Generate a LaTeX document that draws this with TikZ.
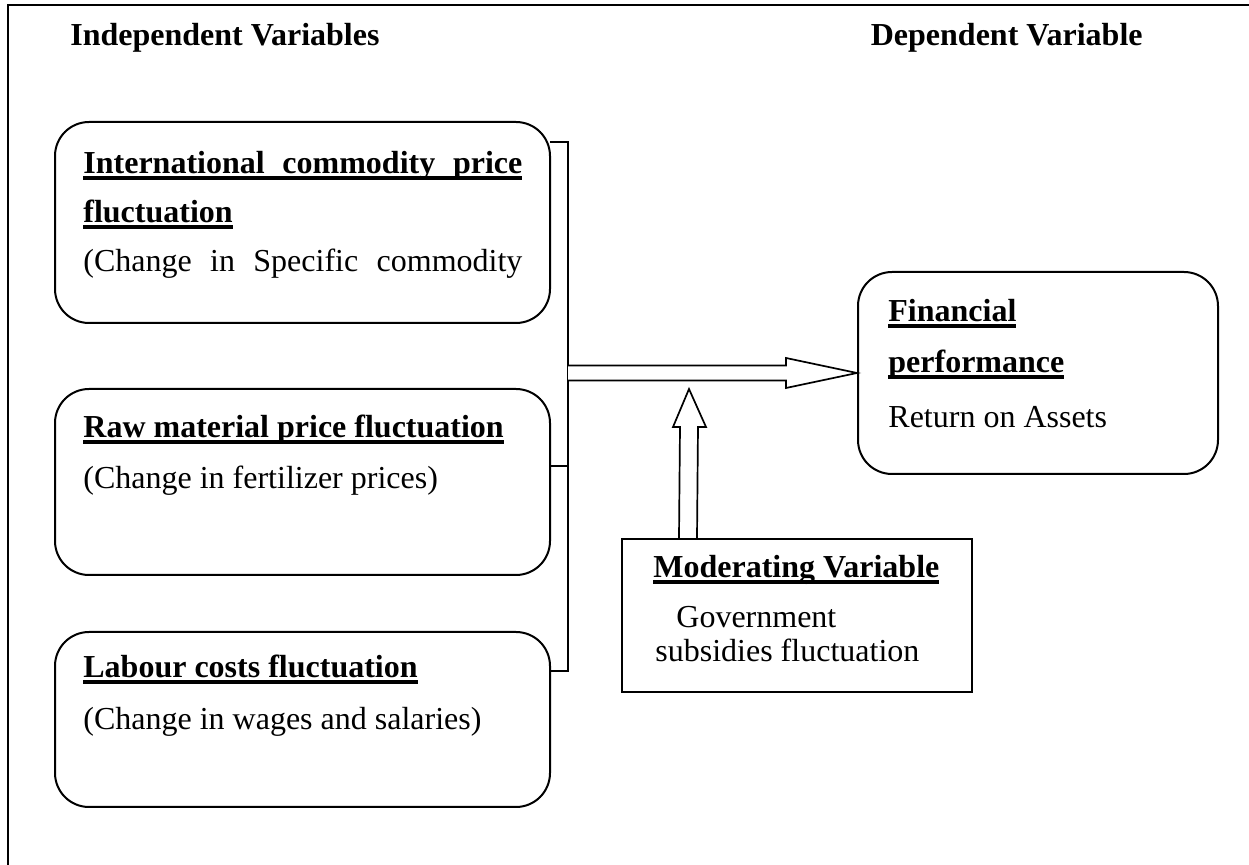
\documentclass[tikz,border=0pt]{standalone}
\usepackage{fontspec}
\setmainfont{Liberation Serif}
\usetikzlibrary{calc}

\newcommand{\undl}[1]{\setbox0=\hbox{#1}\rlap{\rule[-3pt]{\wd0}{1.8pt}}\box0}
\newcommand{\jline}[1]{\makebox[219.5pt][s]{#1}}

\begin{document}
\begin{tikzpicture}[x=0.5pt,y=-0.5pt,font=\fontsize{16}{19}\selectfont,
  ivbox/.style={draw, line width=1pt, rounded corners=17pt, minimum width=247.5pt, inner sep=0pt},
  mvbox/.style={draw, line width=1pt, minimum width=175pt, minimum height=76.5pt, inner sep=0pt},
  txt/.style={anchor=base west, inner sep=0pt},
  hollow/.style={draw, line width=0.85pt, fill=white},
  brace/.style={draw, line width=0.75pt}]
\useasboundingbox (0,0) rectangle (1249,865);

% frame
\coordinate (ftop) at (1249,5);
\coordinate (fcorner) at (8,5);
\coordinate (fbot) at (8,865);
\draw[line width=1pt] (ftop) -- (fcorner) -- (fbot);

% headings
\node[txt, font=\fontsize{16}{19}\selectfont\bfseries] (indep) at (70,46) {Independent Variables};
\node[txt, anchor=base east, font=\fontsize{16}{19}\selectfont\bfseries] (dep) at (1143,46) {Dependent Variable};

% independent variables
\node[ivbox, minimum height=100.5pt] (icp) at (302.5,222.5) {};
\node[txt] (icpa) at (83,174) {\undl{\bfseries\jline{International commodity price}}};
\node[txt] (icpb) at (83,223) {\undl{\bfseries fluctuation}};
\node[txt] (icpc) at (83,272) {\jline{(Change in Specific commodity}};

\node[ivbox, minimum height=93pt] (raw) at (302.5,482) {};
\node[txt] (rawa) at (83,438) {\undl{\bfseries Raw material price fluctuation}};
\node[txt] (rawb) at (83,489) {(Change in fertilizer prices)};

\node[ivbox, minimum height=87.5pt] (lab) at (302.5,719.5) {};
\node[txt] (laba) at (83,678) {\undl{\bfseries Labour costs fluctuation}};
\node[txt] (labb) at (83,730) {(Change in wages and salaries)};

% dependent variable
\node[ivbox, minimum width=180pt, minimum height=101pt] (fin) at (1038,373) {};
\node[txt] (fina) at (888,322) {\undl{\bfseries Financial}};
\node[txt] (finb) at (888,373) {\undl{\bfseries performance}};
\node[txt] (finc) at (888,428) {Return on Assets};

% moderating variable
\node[mvbox] (mod) at (797,615.5) {};
\node[txt] (moda) at (653,578) {\undl{\bfseries Moderating Variable}};
\node[txt] (modb) at (676,628) {Government};
\node[txt] (modc) at (655,662) {subsidies fluctuation};

% bracket joining the three boxes
\coordinate (brtop) at (550,142);
\coordinate (brmid) at (550,466);
\coordinate (brbot) at (550,671);
\coordinate (join) at (568,373);
\draw[brace] (brtop) -- ++(18,0) |- (brbot);
\draw[brace] (brmid) -- ++(18,0);

% block arrows
\draw[hollow] ($(join)+(0,-7.5)$) -- ($(fin.west)+(-71,-7.5)$) -- ($(fin.west)+(-71,-15)$)
  -- (fin.west) -- ($(fin.west)+(-71,15)$) -- ($(fin.west)+(-71,7.5)$) -- ($(join)+(0,7.5)$);
\coordinate (upfoot) at ($(mod.north west)+(67,0)$);
\coordinate (uptip) at (689,389);
\draw[hollow] ($(upfoot)+(-9,0)$) -- ($(uptip)+(-9,38)$) -- ($(uptip)+(-16,38)$)
  -- (uptip) -- ($(uptip)+(17,38)$) -- ($(uptip)+(9,38)$) -- ($(upfoot)+(9,0)$);

\end{tikzpicture}
\end{document}
